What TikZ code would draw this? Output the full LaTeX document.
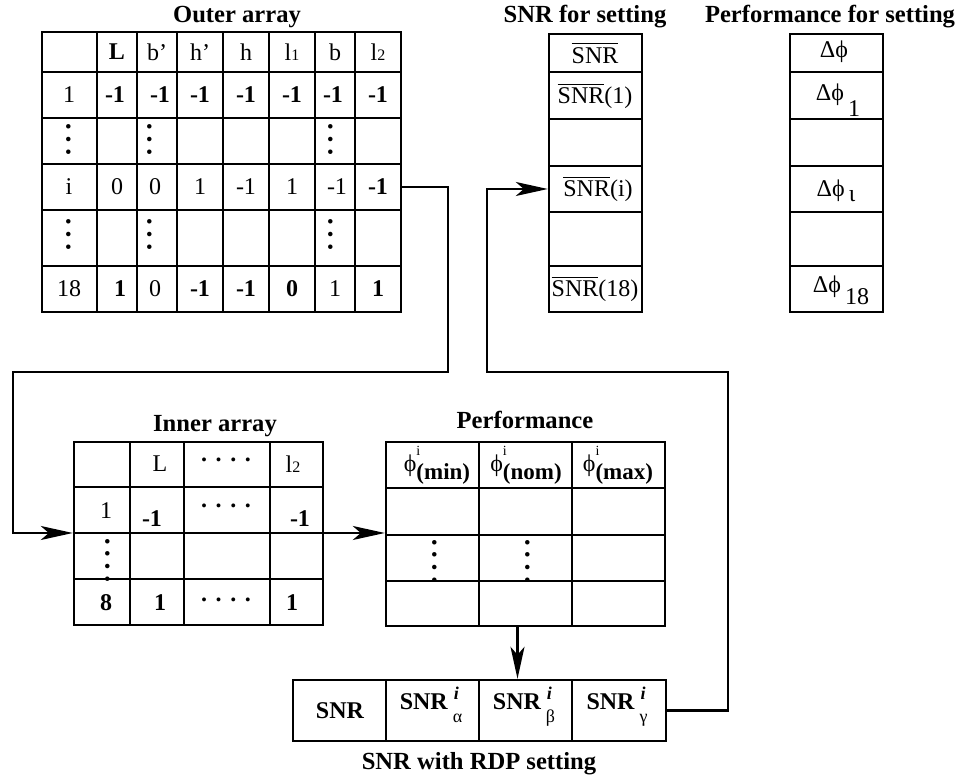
\documentclass[tikz,border=0pt]{standalone}
\usepackage{fontspec}
\setmainfont{Liberation Serif}
\usepackage{graphicx}
\usepackage{amsmath, amssymb}
\usetikzlibrary{arrows.meta, positioning, fit, calc}

% vertical dots, three or four of them
\newcommand{\vdotsA}{\rotatebox{90}{\fontsize{19}{19}\selectfont …}}
\newcommand{\vdotsB}{\rotatebox{90}{\fontsize{19}{19}\selectfont …\kern0.04em.}}
\newcommand{\hdotsA}{\textbf{.\hspace{4.3pt}.\hspace{4.3pt}.\hspace{4.3pt}.}}
% SNR with sub- and superscript
\newcommand{\snrsub}[1]{SNR\hspace{2.5pt}\rlap{\raisebox{5pt}{\small\bfseries\itshape\kern0.5pt i}}%
    \raisebox{-6.3pt}{\small\mdseries #1}}
% phi with sub- and superscript
\newcommand{\phisub}[1]{ϕ\rlap{\raisebox{8pt}{\scriptsize i}}%
    \raisebox{-4pt}{\fontsize{11.5}{13}\selectfont\bfseries(#1)}}

\begin{document}
\begin{tikzpicture}[
    x=0.5pt, y=-0.5pt,
    frame/.style={
        draw,
        line width=1.2pt,
        inner sep=0pt
    },
    grid/.style={line width=0.7pt},
    cell/.style={
        inner sep=1pt,
        font=\fontsize{12}{14}\selectfont
    },
    bcell/.style={cell, font=\fontsize{12}{14}\selectfont\bfseries},
    title/.style={inner sep=1pt, font=\fontsize{12.3}{14}\selectfont\bfseries},
    conn/.style={line width=1.1pt, -{Stealth[length=16pt, width=7pt, inset=4pt]}}
]
\useasboundingbox (0,0) rectangle (959,779);

% --- titles ---
\node[title] (t-outer)   at (237,17)  {Outer array};
\node[title] (t-snrset)  at (585,17)  {SNR for setting};
\node[title] (t-perfset) at (830,17)  {Performance for setting};
\node[title] (t-inner)   at (215,426) {Inner array};
\node[title] (t-perf)    at (525,420) {Performance};
\node[title] (t-rdp)     at (479,764) {SNR with RDP setting};

% ============================================================
%  Outer array
% ============================================================
\node[frame, fit={(42,32) (401,312)}] (outer) {};
\foreach \x in {97,137,177,223,269,315,355}
    \draw[grid] (\x,32) -- (\x,312);
\foreach \y in {72,118,164,210,266}
    \draw[grid] (42,\y) -- (401,\y);

% --- header ---
\foreach \x/\t [count=\c] in {117/\textbf{L}, 157/b’, 200/h’, 246/h,
        292/l{\footnotesize 1}, 335/b, 378/l{\footnotesize 2}}
    \node[cell] (oh-\c) at (\x,52) {\t};

% --- row 1 ---
\node[cell] (o1-0) at (69,95) {1};
\foreach \x [count=\c] in {115,160,200,246,292,333,378}
    \node[bcell] (o1-\c) at (\x,95) {-1};

% --- row i ---
\node[cell] (oi-0) at (69,187) {i};
\foreach \x/\t [count=\c] in {117/0, 155/0, 200/1, 246/-1, 292/1, 337/-1,
        378/\textbf{-1}}
    \node[cell] (oi-\c) at (\x,187) {\t};

% --- row 18 ---
\node[cell] (o18-0) at (69,289) {18};
\foreach \x/\t [count=\c] in {120/\textbf{1}, 155/0, 200/\textbf{-1},
        246/\textbf{-1}, 292/\textbf{0}, 335/1, 378/\textbf{1}}
    \node[cell] (o18-\c) at (\x,289) {\t};

% --- dots ---
\foreach \x [count=\c] in {69,150,331} {
    \node[cell] (od1-\c) at (\x,140) {\vdotsA};
    \node[cell] (od2-\c) at (\x,235) {\vdotsA};
}

% ============================================================
%  SNR for setting / Performance for setting
% ============================================================
\node[frame, fit={(549,34) (642,312)}] (snrset) {};
\node[frame, fit={(790,34) (883,312)}] (perfset) {};
\foreach \y in {72,119,166,212,266} {
    \draw[grid] (549,\y) -- (642,\y);
    \draw[grid] (790,\y) -- (883,\y);
}

\node[cell] (s-0)  at (595,53)  {$\overline{\hbox{SNR}}$};
\node[cell] (s-1)  at (595,96)  {$\overline{\hbox{SNR}}$(1)};
\node[cell] (s-i)  at (598,189) {$\overline{\hbox{SNR}}$(i)};
\node[cell] (s-18) at (595,289) {$\overline{\hbox{SNR}}$(18)};

\node[cell] (p-0)  at (834,52)  {Δϕ};
\node[cell] (p-1)  at (838,100) {Δϕ\,\raisebox{-1.4ex}{1}};
\node[cell] (p-i)  at (836,191) {Δϕ\,\raisebox{-0.4ex}{ι}};
\node[cell] (p-18) at (841,290) {Δϕ\,\raisebox{-1.1ex}{18}};

% ============================================================
%  Inner array
% ============================================================
\node[frame, fit={(74,442) (323,625)}] (inner) {};
\foreach \x in {130,184,270}
    \draw[grid] (\x,442) -- (\x,625);
\foreach \y in {487,533,579}
    \draw[grid] (74,\y) -- (323,\y);

\node[cell] (ih-1) at (160,464) {L};
\node[cell] (ih-2) at (226,460) {\hdotsA};
\node[cell] (ih-3) at (293,464) {l{\footnotesize 2}};

\node[cell]  (i1-0) at (106,511) {1};
\node[bcell] (i1-1) at (152,519) {-1};
\node[cell]  (i1-2) at (226,506) {\hdotsA};
\node[bcell] (i1-3) at (300,519) {-1};

\node[cell] (id-0) at (108,561) {\vdotsB};

\node[bcell] (i8-0) at (106,603) {8};
\node[bcell] (i8-1) at (160,603) {1};
\node[cell]  (i8-2) at (226,600) {\hdotsA};
\node[bcell] (i8-3) at (292,603) {1};

% ============================================================
%  Performance
% ============================================================
\node[frame, fit={(386,442) (665,626)}] (perf) {};
\foreach \x in {479,572}
    \draw[grid] (\x,442) -- (\x,626);
\foreach \y in {488,535,581}
    \draw[grid] (386,\y) -- (665,\y);

\foreach \x/\t [count=\c] in {437/min, 526/nom, 618/max}
    \node[cell, anchor=base] (ph-\c) at (\x,472) {\phisub{\t}};

\node[cell] (pd-1) at (435,562) {\vdotsB};
\node[cell] (pd-2) at (528,562) {\vdotsB};

% ============================================================
%  SNR with RDP setting
% ============================================================
\node[frame, fit={(293,680) (666,741)}] (rdp) {};
\foreach \x in {386,479,572}
    \draw[grid] (\x,680) -- (\x,741);

\node[bcell, anchor=base] (r-0) at (340,719) {SNR};
\foreach \x/\g [count=\c] in {431/α, 524/β, 617/γ}
    \node[bcell, anchor=base] (r-\c) at (\x,710) {\snrsub{\g}};

% ============================================================
%  connectors
% ============================================================
\coordinate (o-turn) at (448,372);
\coordinate (l-turn) at (13,533);
\coordinate (r-turn) at (728,372);
\coordinate (s-turn) at (487,189);

% --- outer array (row i) -> inner array ---
\draw[conn] (outer.east |- oi-0) -| (o-turn) -| (l-turn) -- (inner.west |- l-turn);

% --- inner array -> performance ---
\draw[conn] (inner.east |- l-turn) -- (perf.west |- l-turn);

% --- performance -> SNR with RDP setting ---
\draw[conn] ($(perf.south)+(-8,0)$) -- ($(perf.south |- rdp.north)+(-8,0)$);

% --- SNR with RDP setting -> SNR for setting (row i) ---
\draw[conn] (rdp.east) -| (r-turn) -| (s-turn) -- (snrset.west |- s-turn);

\end{tikzpicture}
\end{document}
